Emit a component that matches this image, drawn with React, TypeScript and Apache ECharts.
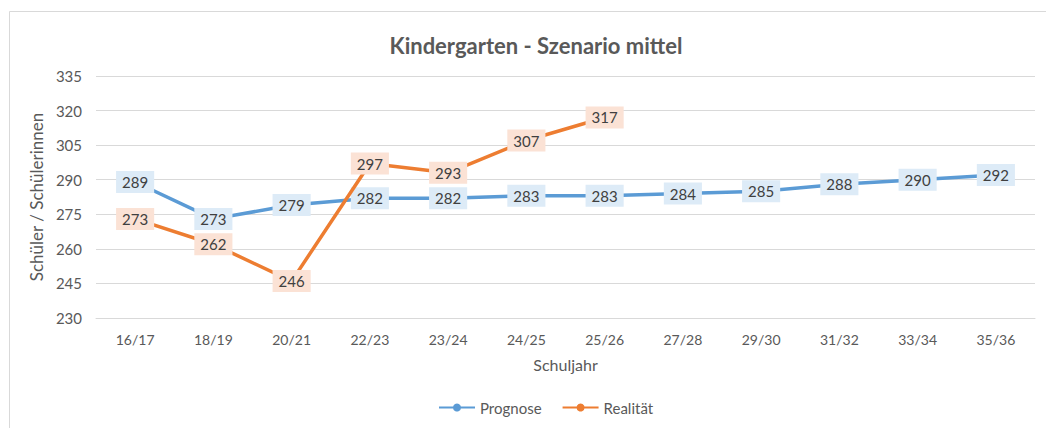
import React, { useEffect, useRef } from "react";
import * as echarts from "echarts";

const categories = ["16/17", "18/19", "20/21", "22/23", "23/24", "24/25", "25/26", "27/28", "29/30", "31/32", "33/34", "35/36"];
const prognose = [289, 273, 279, 282, 282, 283, 283, 284, 285, 288, 290, 292];
const realitaet = [273, 262, 246, 297, 293, 307, 317];

const FONT = "Lato, 'Open Sans', sans-serif";

export default function App() {
  const ref = useRef<HTMLDivElement>(null);
  useEffect(() => {
    const chart = echarts.init(ref.current!, undefined, { renderer: "svg" });
    const labelCommon = {
      show: true,
      position: "inside",
      fontFamily: FONT,
      fontSize: 15,
      color: "#404040",
      padding: [4, 6, 3, 6],
    };
    chart.setOption({
      animation: false,
      backgroundColor: "#ffffff",
      title: {
        text: "Kindergarten - Szenario mittel",
        left: 531,
        top: 29,
        textAlign: "center",
        textStyle: { fontFamily: FONT, fontSize: 22, fontWeight: "bold", color: "#595959" },
      },
      graphic: [
        {
          type: "rect",
          shape: { x: 9.5, y: 11.5, width: 1100, height: 500 },
          style: { fill: "none", stroke: "#d9d9d9", lineWidth: 1 },
          silent: true,
        },
      ],
      legend: {
        bottom: 8,
        left: 433,
        itemWidth: 36,
        itemHeight: 10,
        itemGap: 20,
        textStyle: { fontFamily: FONT, fontSize: 15, color: "#595959" },
        data: ["Prognose", "Realität"],
      },
      grid: { left: 96, right: 11, top: 76, bottom: 110, containLabel: false },
      xAxis: {
        type: "category",
        data: categories,
        boundaryGap: true,
        name: "Schuljahr",
        nameLocation: "middle",
        nameGap: 38,
        nameTextStyle: { fontFamily: FONT, fontSize: 16, color: "#595959" },
        axisLine: { show: true, lineStyle: { color: "#d9d9d9" } },
        axisTick: { show: false },
        axisLabel: { fontFamily: FONT, fontSize: 14, color: "#595959", margin: 14 },
      },
      yAxis: {
        type: "value",
        min: 230,
        max: 335,
        interval: 15,
        name: "Schüler / Schülerinnen",
        nameLocation: "middle",
        nameGap: 47,
        nameTextStyle: { fontFamily: FONT, fontSize: 17, color: "#595959" },
        axisLine: { show: false },
        axisTick: { show: false },
        axisLabel: { fontFamily: FONT, fontSize: 15, color: "#595959", margin: 14 },
        splitLine: { lineStyle: { color: "#d9d9d9", width: 1 } },
      },
      series: [
        {
          name: "Prognose",
          type: "line",
          data: prognose,
          symbol: "circle",
          symbolSize: 8,
          showSymbol: true,
          lineStyle: { color: "#5B9BD5", width: 3.5 },
          itemStyle: { color: "#5B9BD5" },
          label: { ...labelCommon, backgroundColor: "#DDEBF7" },
          z: 2,
        },
        {
          name: "Realität",
          type: "line",
          data: realitaet,
          symbol: "circle",
          symbolSize: 8,
          showSymbol: true,
          lineStyle: { color: "#ED7D31", width: 3.5 },
          itemStyle: { color: "#ED7D31" },
          label: { ...labelCommon, backgroundColor: "#FBE2D5" },
          z: 3,
        },
      ],
    });
    return () => chart.dispose();
  }, []);
  return <div ref={ref} style={{ position: "absolute", left: 0, top: 0, width: 1046, height: 428 }} />;
}
